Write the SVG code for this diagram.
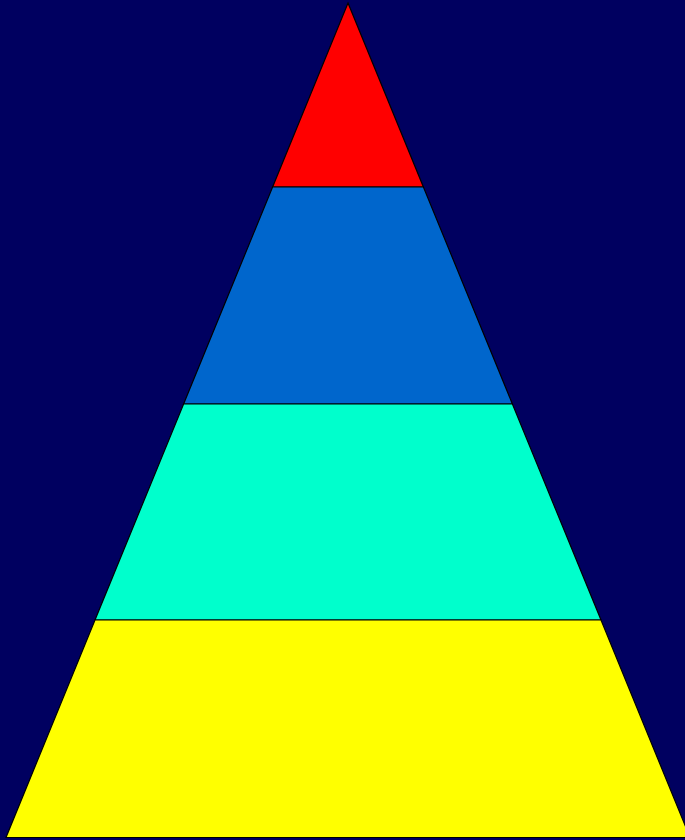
<svg xmlns="http://www.w3.org/2000/svg" width="685" height="840" viewBox="0 0 685 840">
<style>
.tier{stroke:#000;stroke-width:1.2;stroke-linejoin:miter}
</style>
<rect width="685" height="840" fill="#000060"/>
<g id="tier1"><polygon class="tier" fill="#FF0000" points="348,3 423.4,187 272.6,187"/></g>
<g id="tier2"><polygon class="tier" fill="#0066CC" points="272.6,187 423.4,187 512.4,404 183.6,404"/></g>
<g id="tier3"><polygon class="tier" fill="#00FFCC" points="183.6,404 512.4,404 601,620 95,620"/></g>
<g id="tier4"><polygon class="tier" fill="#FFFF00" points="95,620 601,620 690,837.5 6,837.5"/></g>
<g id="connectors"></g>
</svg>
